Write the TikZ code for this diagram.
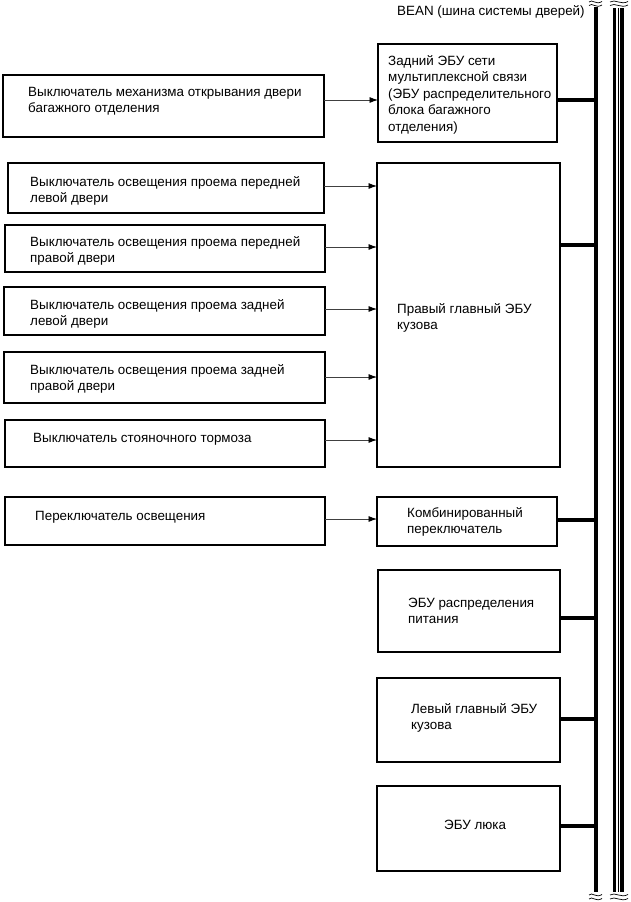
\documentclass[tikz,border=0pt]{standalone}
\usepackage{fontspec}
\setmainfont{Liberation Sans}
\usetikzlibrary{arrows.meta}
\begin{document}
\begin{tikzpicture}[x=1pt,y=-1pt,
 box/.style={draw, line width=1.1pt, inner sep=0pt, outer sep=0pt},
 txt/.style={anchor=base west, inner sep=0pt, align=left, font=\fontsize{13.4}{16}\selectfont},
 arr/.style={line width=0.8pt, black!75, -{Latex[length=8.5pt,width=6pt,fill=black,color=black]}},
 busc/.style={line width=4pt},
 busl/.style={line width=4pt},
 wave/.style={line width=0.7pt},
]
\useasboundingbox (0,0) rectangle (631,902);

% left switches
\node[box, minimum width=321pt, minimum height=62pt] (sA) at (163.5,106) {};
\node[box, minimum width=316pt, minimum height=50pt] (sB) at (166,188) {};
\node[box, minimum width=320pt, minimum height=47pt] (sC) at (165,248.5) {};
\node[box, minimum width=321pt, minimum height=48pt] (sD) at (164.5,311) {};
\node[box, minimum width=321pt, minimum height=51pt] (sE) at (164.5,377.5) {};
\node[box, minimum width=320pt, minimum height=47pt] (sF) at (165,443.5) {};
\node[box, minimum width=320pt, minimum height=48pt] (sG) at (165,521) {};

% (anchor = baseline of the last line)
\node[txt] (tA) at (28,112) {Выключатель механизма открывания двери\\багажного отделения};
\node[txt] (tB) at (30,202) {Выключатель освещения проема передней\\левой двери};
\node[txt] (tC) at (30,262) {Выключатель освещения проема передней\\правой двери};
\node[txt] (tD) at (30,325) {Выключатель освещения проема задней\\левой двери};
\node[txt] (tE) at (30,390) {Выключатель освещения проема задней\\правой двери};
\node[txt] (tF) at (33,442) {Выключатель стояночного тормоза};
\node[txt] (tG) at (35,520) {Переключатель освещения};

% right ECUs
\node[box, minimum width=179pt, minimum height=98pt] (R1) at (467.5,93) {};
\node[box, minimum width=183pt, minimum height=304pt] (R2) at (468.5,315) {};
\node[box, minimum width=180pt, minimum height=49pt] (R3) at (467,521.5) {};
\node[box, minimum width=182pt, minimum height=82pt] (R4) at (469,611) {};
\node[box, minimum width=183pt, minimum height=84pt] (R5) at (468.5,720) {};
\node[box, minimum width=183pt, minimum height=85pt] (R6) at (468.5,828.5) {};

\node[txt, font=\fontsize{13.4}{16.5}\selectfont] (u1) at (388,131) {Задний ЭБУ сети\\мультиплексной связи\\(ЭБУ распределительного\\блока багажного\\отделения)};
\node[txt] (u2) at (397,329) {Правый главный ЭБУ\\кузова};
\node[txt] (u3) at (407,533) {Комбинированный\\переключатель};
\node[txt] (u4) at (408,623) {ЭБУ распределения\\питания};
\node[txt] (u5) at (411,729) {Левый главный ЭБУ\\кузова};
\node[txt] (u6) at (444,829) {ЭБУ люка};

\node[txt] (bean) at (397,16) {BEAN (шина системы дверей)};

% arrows
\draw[arr] (sA.east |- 0,100) -- (R1.west |- 0,100);
\draw[arr] (sB.east |- 0,186) -- (R2.west |- 0,186);
\draw[arr] (sC.east |- 0,247) -- (R2.west |- 0,247);
\draw[arr] (sD.east |- 0,309) -- (R2.west |- 0,309);
\draw[arr] (sE.east |- 0,377) -- (R2.west |- 0,377);
\draw[arr] (sF.east |- 0,440) -- (R2.west |- 0,440);
\draw[arr] (sG.east |- 0,519) -- (R3.west |- 0,519);

% bus lines
\coordinate (b1T) at (595.5,7);
\coordinate (b1B) at (595.5,892);
\draw[busl] (b1T) -- (b1B);
\coordinate (b2T) at (614.5,8);
\coordinate (b2B) at (614.5,892);
\draw[line width=3.5pt] (b2T) -- (b2B);
\coordinate (b3T) at (618,8);
\coordinate (b3B) at (618,892);
\draw[line width=0.9pt] (b3T) -- (b3B);
\coordinate (b4T) at (622,8);
\coordinate (b4B) at (622,892);
\draw[line width=3.5pt] (b4T) -- (b4B);

% bus taps
\draw[busc] (R1.east |- 0,100) -- (b1T |- 0,100);
\draw[busc] (R2.east |- 0,245) -- (b1T |- 0,245);
\draw[busc] (R3.east |- 0,520) -- (b1T |- 0,520);
\draw[busc] (R4.east |- 0,618) -- (b1T |- 0,618);
\draw[busc] (R5.east |- 0,719) -- (b1T |- 0,719);
\draw[busc] (R6.east |- 0,826) -- (b1T |- 0,826);

% break marks
\foreach \yy in {2,5.5,895,899}{
  \draw[wave] (589,\yy) .. controls (592,\yy-3.5) and (596,\yy+3.5) .. (602,\yy-0.5);
  \draw[wave] (610,\yy) .. controls (615,\yy-3.5) and (621,\yy+3.5) .. (628,\yy-0.5);
}
\end{tikzpicture}
\end{document}
